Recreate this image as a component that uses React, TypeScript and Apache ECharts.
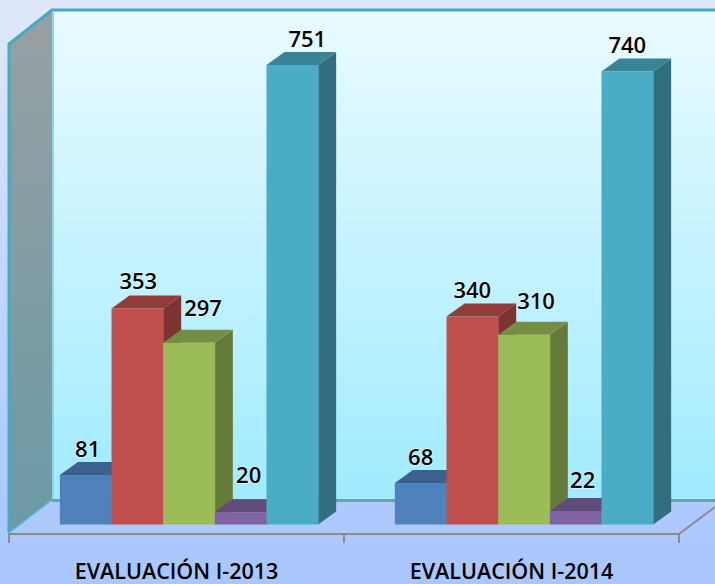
import React, { useEffect, useRef } from "react";
import * as echarts from "echarts";

const categories = ["EVALUACIÓN I-2013", "EVALUACIÓN I-2014"];
const blueValues = [81, 68];
const redValues = [353, 340];
const greenValues = [297, 310];
const purpleValues = [20, 22];
const tealValues = [751, 740];
const seriesValues = [blueValues, redValues, greenValues, purpleValues, tealValues];

const palette = [
  { front: "#4f81bd", top: "#3c618f", side: "#335379" },
  { front: "#c0504d", top: "#923c3a", side: "#7c3331" },
  { front: "#9bbb59", top: "#758e43", side: "#647a3a" },
  { front: "#8064a2", top: "#614b7b", side: "#533f6a" },
  { front: "#4bacc6", top: "#398396", side: "#306e80" },
];
const labelNudge: [number, number][][] = [
  [[-7, 0], [-9, 0]],
  [[-8, -1], [-9, 0]],
  [[5, -9], [3, -8]],
  [[-1, -11], [-2, -5]],
  [[6, 0], [-9, -1]],
];

const DX = 18;
const DY = 13;

function makeRender(s: number) {
  return (params: any, api: any) => {
    const cat = api.value(0);
    const val = api.value(1);
    const band = api.size([1, 0])[0];
    const w = band * 0.1542;
    const [cx, yTop0] = api.coord([cat, val]);
    const [, yBase0] = api.coord([cat, 0]);
    const x0 = cx + 12.5 + (s - 2.5) * w;
    const x1 = x0 + w;
    const yT = yTop0 - 9.5;
    const yB = yBase0 - 9.5;
    const c = palette[s];
    const nudge = labelNudge[s][params.dataIndex];
    return {
      type: "group",
      children: [
        { type: "polygon", shape: { points: [[x1, yT], [x1 + DX, yT - DY], [x1 + DX, yB - DY], [x1, yB]] }, style: { fill: c.side } },
        { type: "polygon", shape: { points: [[x0, yT], [x0 + DX, yT - DY], [x1 + DX, yT - DY], [x1, yT]] }, style: { fill: c.top } },
        { type: "rect", shape: { x: x0, y: yT, width: w + 0.4, height: yB - yT }, style: { fill: c.front } },
        {
          type: "text",
          z2: 100,
          style: {
            x: x0 + w / 2 + 9 + nudge[0],
            y: yT - DY - 14 + nudge[1],
            text: String(val),
            align: "center",
            verticalAlign: "middle",
            font: "600 22px 'Open Sans'",
            fill: "#000",
            stroke: "rgba(255,255,255,0.6)",
            lineWidth: 1.5,
          },
        },
      ],
    };
  };
}

export default function App() {
  const ref = useRef<HTMLDivElement>(null);
  useEffect(() => {
    document.body.style.margin = "0";
    const chart = echarts.init(ref.current!, undefined, { renderer: "svg" });
    chart.setOption({
      animation: false,
      backgroundColor: {
        type: "linear", x: 0, y: 0, x2: 0, y2: 1,
        colorStops: [
          { offset: 0, color: "#e0e8fb" },
          { offset: 0.75, color: "#b2ccfd" },
          { offset: 1, color: "#a9c6fe" },
        ],
      },
      grid: { left: 9, right: 36, top: 44.4, bottom: 50 },
      xAxis: {
        type: "category",
        data: categories,
        axisLine: { lineStyle: { color: "#8c8c8c", width: 2 } },
        axisTick: { show: true, length: 9, lineStyle: { color: "#8c8c8c", width: 2 } },
        axisLabel: { color: "#000", margin: 25, fontFamily: "Open Sans", fontWeight: 600, fontSize: 21.5, interval: 0 },
      },
      yAxis: { type: "value", min: 0, max: 800, show: false },
      graphic: [
        {
          type: "rect", z: -1, shape: { x: 52, y: 10, width: 663, height: 490 },
          style: {
            fill: { type: "linear", x: 0, y: 0, x2: 0, y2: 1, colorStops: [{ offset: 0, color: "#e9fbff" }, { offset: 1, color: "#a0ebff" }] },
          },
        },
        {
          type: "polygon", z: -1, shape: { points: [[9, 44], [52, 10], [52, 500], [9, 533]] },
          style: {
            fill: { type: "linear", x: 0, y: 0, x2: 0, y2: 1, colorStops: [{ offset: 0, color: "#98a0a2" }, { offset: 1, color: "#6a9aa6" }] },
          },
        },
        { type: "polyline", z: -1, shape: { points: [[9, 533], [9, 44], [52, 10], [715, 10]] }, style: { stroke: "#47a9c2", lineWidth: 3, fill: "none" } },
        { type: "line", z: -1, shape: { x1: 53, y1: 12, x2: 53, y2: 500 }, style: { stroke: "#8ed6e6", lineWidth: 2 } },
        { type: "line", z: -1, shape: { x1: 9, y1: 533, x2: 52, y2: 500 }, style: { stroke: "#5fc0d8", lineWidth: 1.5 } },
        { type: "line", z: -1, shape: { x1: 52, y1: 500.5, x2: 715, y2: 500.5 }, style: { stroke: "#709fab", lineWidth: 3 } },
        { type: "line", z: -1, shape: { x1: 679, y1: 534, x2: 715, y2: 507 }, style: { stroke: "#8c8c8c", lineWidth: 2 } },
      ],
      series: seriesValues.map((values, s) => ({
        type: "custom",
        renderItem: makeRender(s),
        data: values.map((v, i) => [i, v]),
        encode: { x: 0, y: 1 },
        clip: false,
      })),
    });
    return () => chart.dispose();
  }, []);
  return <div ref={ref} style={{ width: 715, height: 584 }} />;
}
